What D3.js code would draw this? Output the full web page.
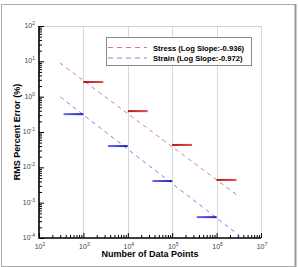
<!DOCTYPE html>
<html>
<head>
<meta charset="utf-8">
<script src="https://cdn.jsdelivr.net/npm/d3@7"></script>
<style>
  body { margin: 0; background: #fff; }
  svg { display: block; font-family: "Liberation Sans", Arial, sans-serif; }
</style>
</head>
<body>
<div id="chart"></div>
<script>
// data
var nPoints = [1e3, 1e4, 1e5, 1e6];
var stressErr = [2.6, 0.39, 0.043, 0.0044];
var strainErr = [0.32, 0.040, 0.0041, 0.00039];
// fitted lines, end points
var stressFit = [[295, 9.0], [3.16e6, 0.0015]];
var strainFit = [[302, 0.98], [3.3e6, 0.000116]];
var xTicks = [1e2, 1e3, 1e4, 1e5, 1e6, 1e7];
var yTicks = [1e-4, 1e-3, 1e-2, 1e-1, 1e0, 1e1, 1e2];
var legendLabels = ["Stress (Log Slope:-0.936)", "Strain (Log Slope:-0.972)"];

var w = 298, h = 267;
var pLeft = 39, pRight = 261, pTop = 26, pBottom = 238;

var svg = d3.select("#chart").append("svg")
  .attr("width", w)
  .attr("height", h);

// outer frame
svg.append("rect")
  .attr("x", 1.5).attr("y", 4.5)
  .attr("width", 294).attr("height", 262)
  .attr("fill", "none")
  .attr("stroke", "#aaa")
  .attr("stroke-width", 1);
svg.append("line")
  .attr("x1", 295.5).attr("x2", 295.5).attr("y1", 4).attr("y2", 267)
  .attr("stroke", "#999").attr("stroke-width", 2);

var x = d3.scaleLog().domain([1e2, 1e7]).range([pLeft, pRight]);
var y = d3.scaleLog().domain([1e-4, 1e2]).range([pBottom, pTop]);

// vertical grid
svg.append("g").selectAll("line")
  .data(xTicks.slice(1))
  .enter().append("line")
  .attr("x1", function(d) { return Math.round(x(d)) + 0.5; })
  .attr("x2", function(d) { return Math.round(x(d)) + 0.5; })
  .attr("y1", pTop).attr("y2", pBottom)
  .attr("stroke", "#d8d8d8")
  .attr("stroke-width", 1);

// top border of plot
svg.append("line")
  .attr("x1", pLeft).attr("x2", pRight)
  .attr("y1", pTop + 0.5).attr("y2", pTop + 0.5)
  .attr("stroke", "#d0d0d0");

// minor ticks
function minors(lo, hi) {
  var out = [];
  for (var e = lo; e < hi; e++) {
    for (var k = 2; k <= 9; k++) out.push(k * Math.pow(10, e));
  }
  return out;
}

svg.append("g")
  .attr("transform", "translate(0," + pBottom + ")")
  .call(d3.axisTop(x).tickValues(xTicks).tickSize(5).tickFormat(""))
  .call(function(g) { g.select(".domain").remove(); });
svg.append("g")
  .attr("transform", "translate(0," + pBottom + ")")
  .call(d3.axisTop(x).tickValues(minors(2, 7)).tickSize(3).tickFormat(""))
  .call(function(g) { g.select(".domain").remove(); });

svg.append("g")
  .attr("transform", "translate(" + pLeft + ",0)")
  .call(d3.axisRight(y).tickValues(yTicks).tickSize(5).tickFormat(""))
  .call(function(g) { g.select(".domain").remove(); });
svg.append("g")
  .attr("transform", "translate(" + pLeft + ",0)")
  .call(d3.axisRight(y).tickValues(minors(-4, 2)).tickSize(3).tickFormat(""))
  .call(function(g) { g.select(".domain").remove(); });

// axis lines
svg.append("path")
  .attr("d", "M" + pLeft + "," + pTop + "V" + pBottom + "H" + pRight)
  .attr("fill", "none")
  .attr("stroke", "#000")
  .attr("stroke-width", 1.6);

// tick labels with exponent
function power(sel, d) {
  var e = Math.round(Math.log10(d));
  sel.append("tspan").text("10");
  sel.append("tspan").attr("dy", -3).attr("font-size", 5).text(e);
}
svg.append("g").selectAll("text")
  .data(xTicks)
  .enter().append("text")
  .attr("x", function(d) { return x(d) + 1; })
  .attr("y", pBottom + 11)
  .attr("text-anchor", "middle")
  .attr("font-size", 7)
  .attr("fill", "#444")
  .each(function(d) { power(d3.select(this), d); });
svg.append("g").selectAll("text")
  .data(yTicks)
  .enter().append("text")
  .attr("x", pLeft - 4)
  .attr("y", function(d) { return y(d) + 2; })
  .attr("text-anchor", "end")
  .attr("font-size", 7)
  .attr("fill", "#444")
  .each(function(d) { power(d3.select(this), d); });

// axis titles
svg.append("text")
  .attr("x", (pLeft + pRight) / 2)
  .attr("y", 257)
  .attr("text-anchor", "middle")
  .attr("font-size", 9)
  .attr("font-weight", "bold")
  .text("Number of Data Points");
svg.append("text")
  .attr("transform", "translate(20," + ((pTop + pBottom) / 2) + ") rotate(-90)")
  .attr("text-anchor", "middle")
  .attr("font-size", 9)
  .attr("font-weight", "bold")
  .text("RMS Percent Error (%)");

// fit lines
var line = d3.line()
  .x(function(d) { return x(d[0]); })
  .y(function(d) { return y(d[1]); });
svg.append("path")
  .attr("d", line(stressFit))
  .attr("fill", "none")
  .attr("stroke", "#d9535a")
  .attr("stroke-width", 0.8)
  .attr("stroke-dasharray", "4,4");
svg.append("path")
  .attr("d", line(strainFit))
  .attr("fill", "none")
  .attr("stroke", "#5a5ee0")
  .attr("stroke-width", 0.8)
  .attr("stroke-dasharray", "4,4");

// gradients for the data bars
var defs = svg.append("defs");
function grad(id, c1, c2) {
  var g = defs.append("linearGradient").attr("id", id);
  g.append("stop").attr("offset", "0%").attr("stop-color", c1);
  g.append("stop").attr("offset", "100%").attr("stop-color", c2);
}
grad("gRed", "#b01818", "#e05050");
grad("gBlue", "#6a6ae8", "#2020c0");

var spread = 2.8;
svg.append("g").selectAll("rect")
  .data(nPoints)
  .enter().append("rect")
  .attr("x", function(d) { return x(d); })
  .attr("y", function(d, i) { return y(stressErr[i]) - 1; })
  .attr("width", function(d) { return x(d * spread) - x(d); })
  .attr("height", 2)
  .attr("fill", "url(#gRed)");
svg.append("g").selectAll("rect")
  .data(nPoints)
  .enter().append("rect")
  .attr("x", function(d) { return x(d / spread); })
  .attr("y", function(d, i) { return y(strainErr[i]) - 1; })
  .attr("width", function(d) { return x(d) - x(d / spread); })
  .attr("height", 2)
  .attr("fill", "url(#gBlue)");

// legend
var lg = svg.append("g");
lg.append("rect")
  .attr("x", 106.5).attr("y", 37.5)
  .attr("width", 145).attr("height", 28)
  .attr("fill", "#fff")
  .attr("stroke", "#888")
  .attr("stroke-width", 1);
var legendColors = ["#d9535a", "#5a5ee0"];
legendLabels.forEach(function(t, i) {
  var ly = 47.5 + i * 10.5;
  lg.append("line")
    .attr("x1", 108).attr("x2", 147)
    .attr("y1", ly).attr("y2", ly)
    .attr("stroke", legendColors[i])
    .attr("stroke-width", 0.8)
    .attr("stroke-dasharray", "5,4");
  lg.append("text")
    .attr("x", 153)
    .attr("y", ly + 3)
    .attr("font-size", 7.6)
    .attr("font-weight", "bold")
    .text(t);
});
</script>
</body>
</html>
